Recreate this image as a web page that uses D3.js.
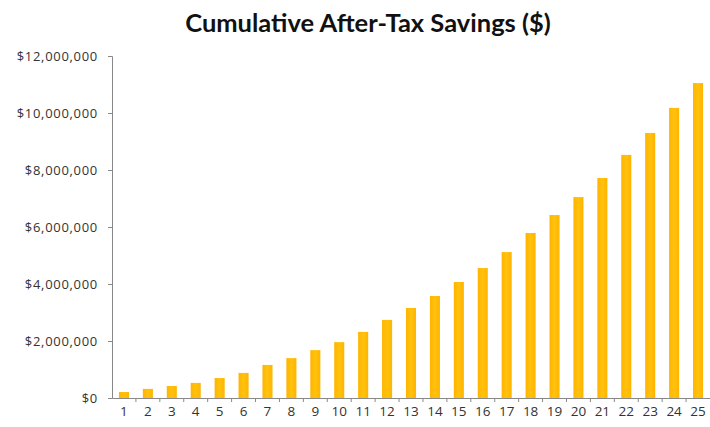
<!DOCTYPE html>
<html><head><meta charset="utf-8">
<script src="https://cdn.jsdelivr.net/npm/d3@7"></script>
<style>body{margin:0;background:#fff}svg{display:block}</style>
</head><body>
<svg id="c" width="710" height="427"></svg>
<script>
const years = d3.range(1, 26).map(String);
const savings = [0.21,0.32,0.42,0.53,0.70,0.88,1.16,1.40,1.68,1.96,2.32,2.74,3.16,3.58,4.07,4.56,5.12,5.79,6.42,7.05,7.72,8.53,9.30,10.18,11.05].map(v=>v*1e6);
const yTicks = [0,2e6,4e6,6e6,8e6,10e6,12e6];
const title = "Cumulative After-Tax Savings ($)";

const svg = d3.select("#c");
const L=112, R=710, T=56, B=398;
const x = d3.scaleBand().domain(years).range([L,R]).paddingInner(0.58).paddingOuter(0.29);
const y = d3.scaleLinear().domain([0,12e6]).range([B,T]);

svg.append("text").attr("x",368).attr("y",32).attr("text-anchor","middle")
  .attr("font-family","Lato, 'Open Sans', sans-serif").attr("font-weight","bold")
  .attr("font-size",25.5).attr("fill","#111").text(title);

const grad = svg.append("defs").append("linearGradient").attr("id","g").attr("x1",0).attr("x2",1);
grad.append("stop").attr("offset","0").attr("stop-color","#FFB400");
grad.append("stop").attr("offset","0.5").attr("stop-color","#FFC20E");
grad.append("stop").attr("offset","1").attr("stop-color","#FFB400");

svg.append("g").selectAll("rect").data(savings).join("rect")
  .attr("x",(d,i)=>x(years[i])).attr("width",x.bandwidth())
  .attr("y",d=>y(d)).attr("height",d=>B-y(d)).attr("fill","url(#g)");

const ya = svg.append("g").attr("transform",`translate(${L},0)`)
  .call(d3.axisLeft(y).tickValues(yTicks).tickSize(4).tickPadding(10)
    .tickFormat(d=>"$"+d3.format(",")(d)));
ya.selectAll("text").attr("font-family","'Open Sans', sans-serif").attr("font-size",13)
  .attr("letter-spacing","0.7px").attr("fill","#333");
ya.select(".domain").attr("stroke","#888");
ya.selectAll(".tick line").attr("stroke","#888");

const xa = svg.append("g").attr("transform",`translate(0,${B})`)
  .call(d3.axisBottom(x).tickSize(0).tickPadding(8));
xa.selectAll("text").attr("font-family","'Open Sans', sans-serif").attr("font-size",13.5).attr("fill","#333");
xa.select(".domain").attr("stroke","#888");
svg.append("g").selectAll("line").data(years.slice(1)).join("line")
  .attr("x1",d=>x(d)-x.step()*x.paddingInner()/2).attr("x2",d=>x(d)-x.step()*x.paddingInner()/2)
  .attr("y1",B).attr("y2",B+4).attr("stroke","#888");
</script>
</body></html>
